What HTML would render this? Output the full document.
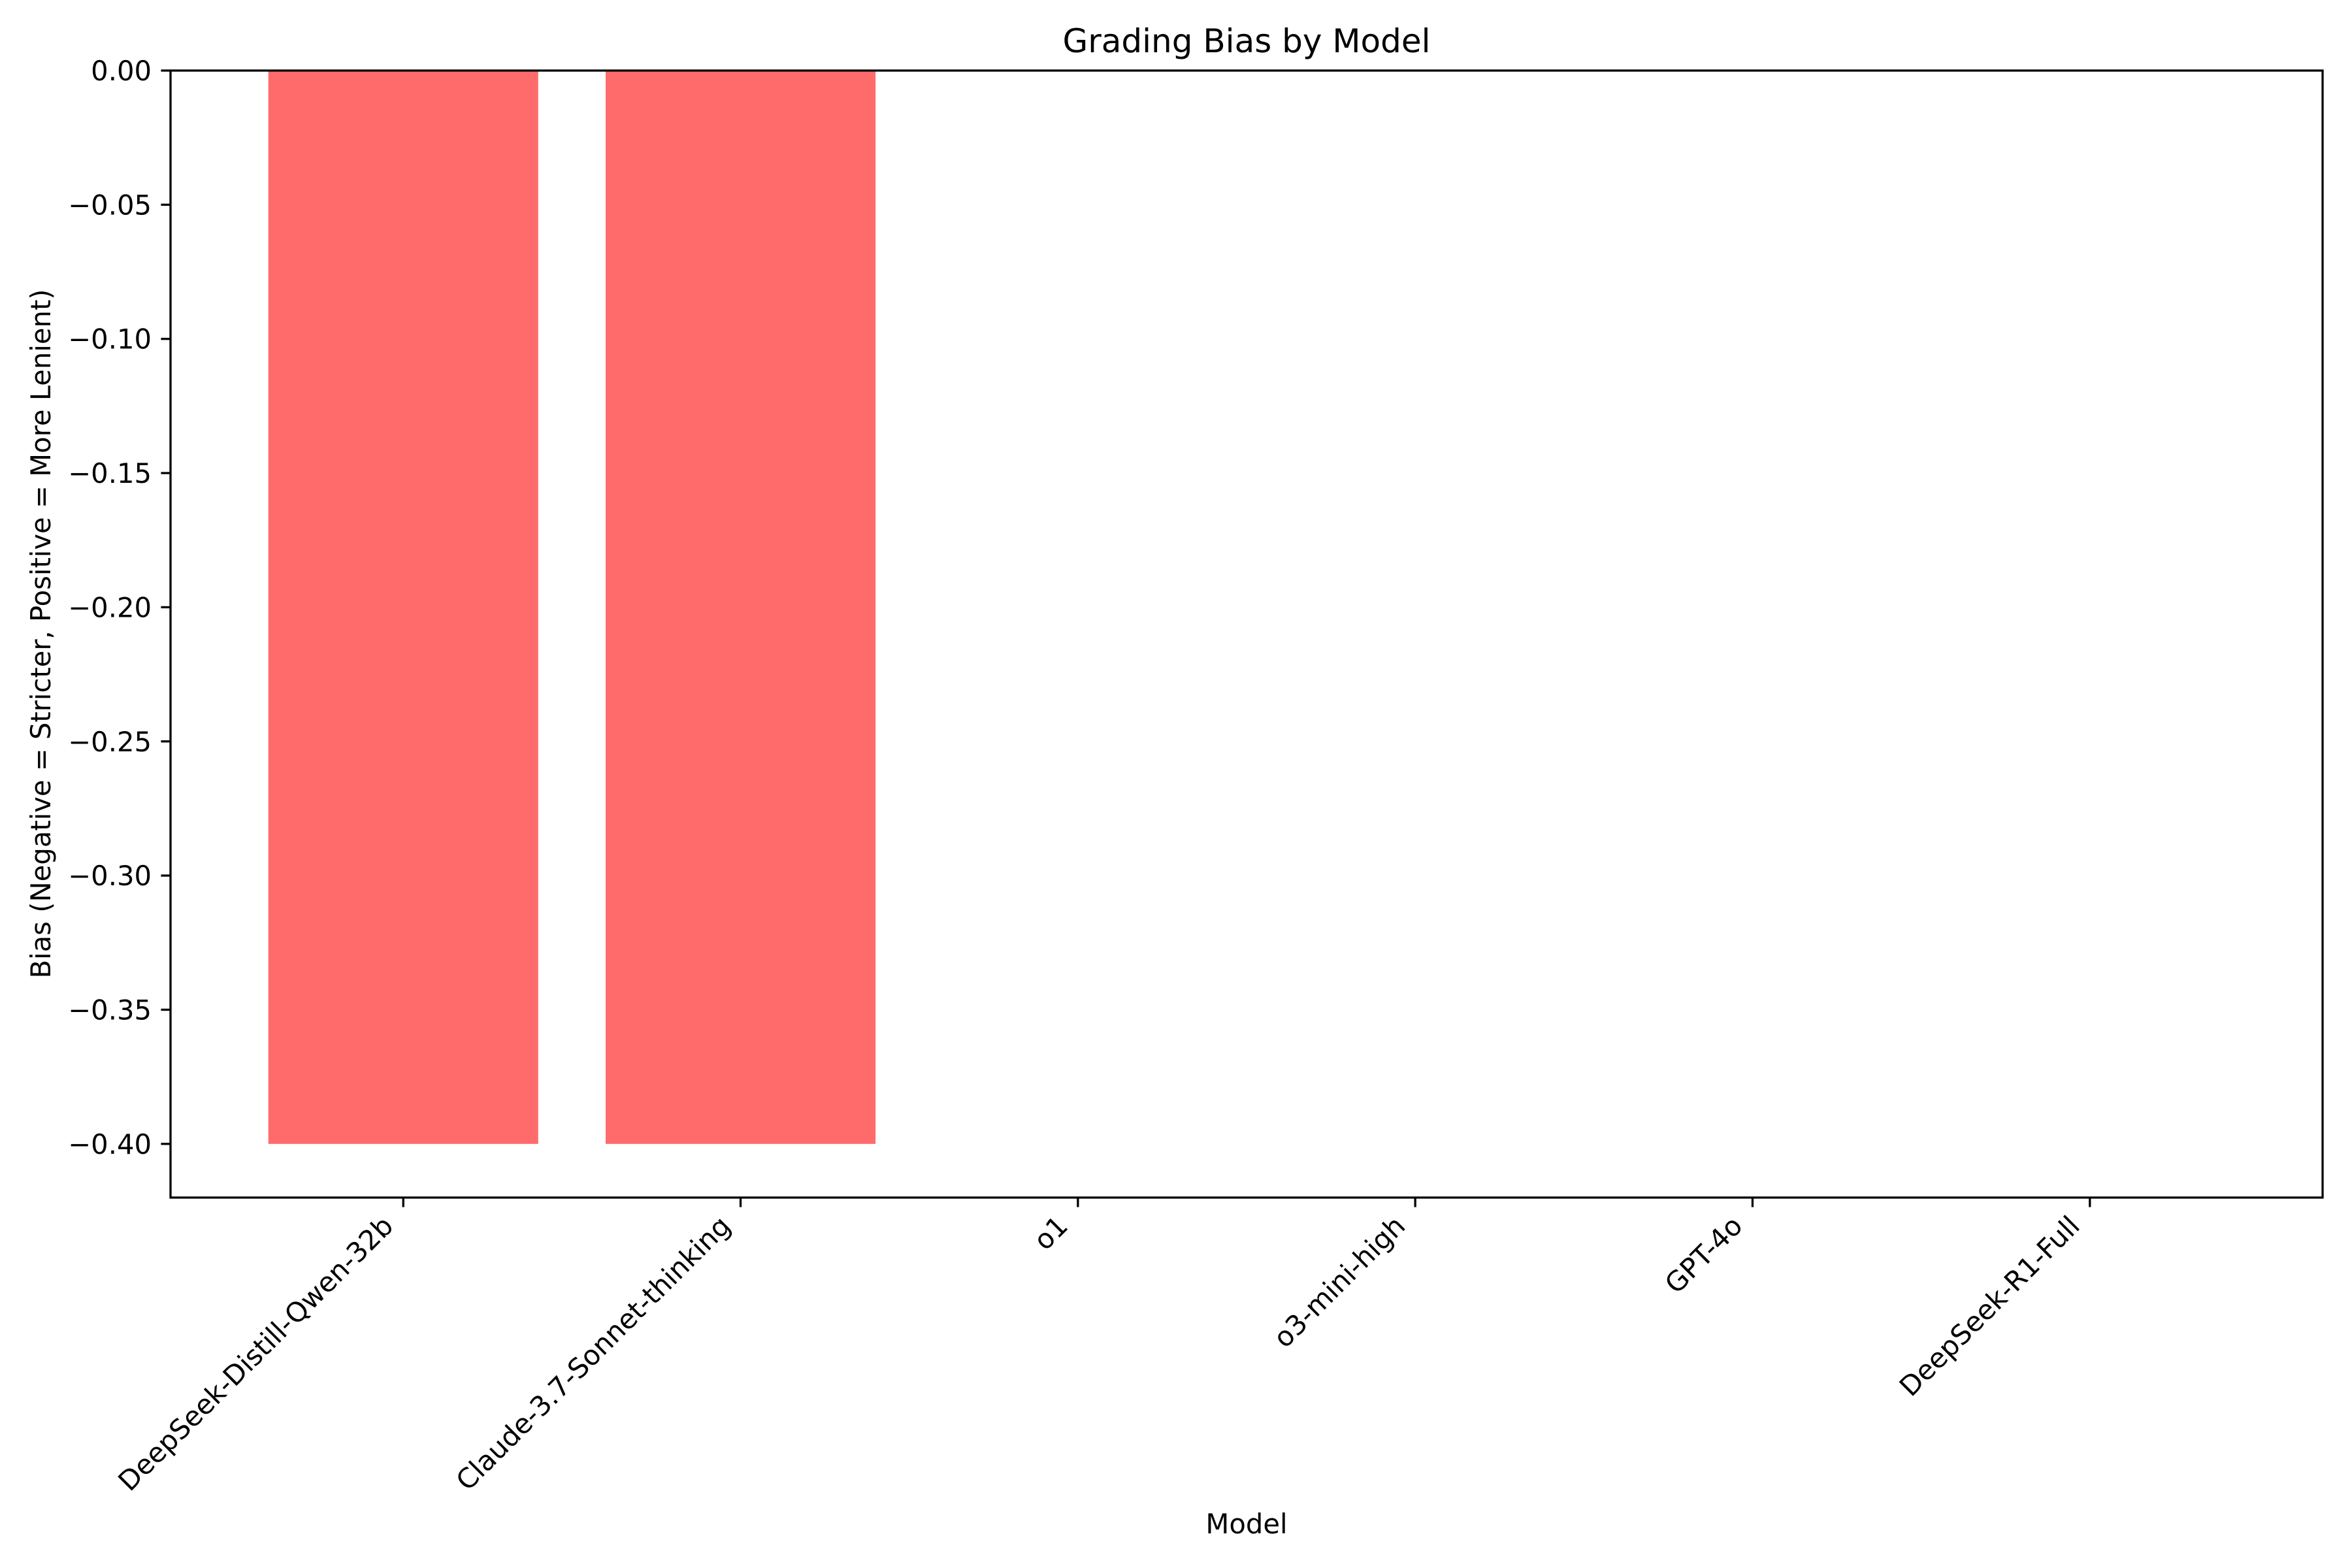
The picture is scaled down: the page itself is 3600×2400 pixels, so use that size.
<!DOCTYPE html>
<html><head><meta charset="utf-8"><style>
html,body{margin:0;padding:0;background:#fff;}
svg{display:block;font-family:"DejaVu Sans","Liberation Sans",sans-serif;}
</style></head><body>
<svg id="chart" width="3600" height="2400" viewBox="0 0 3600 2400" xmlns="http://www.w3.org/2000/svg">
<rect width="3600" height="2400" fill="#fff"/>
<text x="1908" y="80" font-size="50" text-anchor="middle">Grading Bias by Model</text>
<text x="1908" y="2347" font-size="41.7" text-anchor="middle">Model</text>
<text transform="translate(77,970) rotate(-90)" font-size="41.7" text-anchor="middle">Bias (Negative = Stricter, Positive = More Lenient)</text>
<g id="bars"></g>
<g id="yticks"></g>
<g id="xticks"></g>
<rect x="261" y="108" width="3294" height="1725" fill="none" stroke="#000" stroke-width="3.3"/>
</svg>
<script>
const categories = ["DeepSeek-Distill-Qwen-32b","Claude-3.7-Sonnet-thinking","o1","o3-mini-high","GPT-4o","DeepSeek-R1-Full"];
const biasValues = [-0.40,-0.40,0,0,0,0];
const yTickValues = [0,-0.05,-0.10,-0.15,-0.20,-0.25,-0.30,-0.35,-0.40];
const yTickLabels = ["0.00","\u22120.05","\u22120.10","\u22120.15","\u22120.20","\u22120.25","\u22120.30","\u22120.35","\u22120.40"];

const NS="http://www.w3.org/2000/svg";
const L=261,R=3555,T=108,B=1833;
const xMin=-0.69,xMax=5.69,yMin=-0.42,yMax=0;
const xs=v=>L+(v-xMin)/(xMax-xMin)*(R-L);
const ys=v=>T+(yMax-v)/(yMax-yMin)*(B-T);
function mk(tag,attrs,parent){const e=document.createElementNS(NS,tag);for(const k in attrs)e.setAttribute(k,attrs[k]);parent.appendChild(e);return e;}

const gb=document.getElementById('bars');
categories.forEach((c,i)=>{
  const v=biasValues[i];
  const y0=ys(Math.max(0,v)),y1=ys(Math.min(0,v));
  const r=mk('rect',{x:xs(i-0.4),y:y0,width:xs(i+0.4)-xs(i-0.4),height:Math.max(0,y1-y0),fill:'#ff6b6b'},gb);
  
  
});

const gy=document.getElementById('yticks');
yTickValues.forEach((v,i)=>{
  const y=ys(v);
  const t=mk('line',{x1:L-14.6,x2:L,y1:y,y2:y,stroke:'#000','stroke-width':3.3},gy);
  
  
  const tx=mk('text',{x:L-29,y:y+15,'font-size':41.7,'text-anchor':'end'},gy);
  tx.textContent=yTickLabels[i];
  
  
});

const gx=document.getElementById('xticks');
categories.forEach((c,i)=>{
  const x=xs(i);
  const t=mk('line',{x1:x,x2:x,y1:B,y2:B+14.6,stroke:'#000','stroke-width':3.3},gx);
  
  
  const tx=mk('text',{transform:'translate('+(x-13)+','+(B+46)+') rotate(-45)','font-size':41.7,'text-anchor':'end'},gx);
  tx.textContent=c;
  
  
});
</script>
</body></html>
